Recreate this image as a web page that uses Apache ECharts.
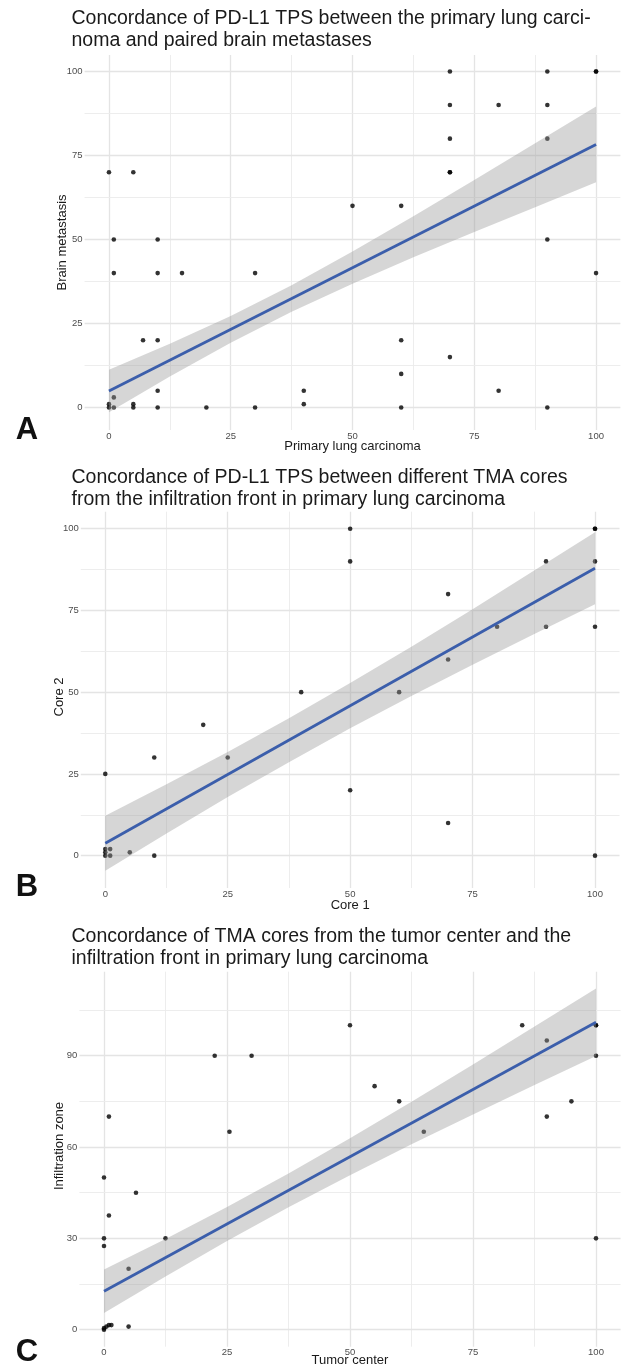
<!DOCTYPE html>
<html>
<head>
<meta charset="utf-8">
<script src="https://cdn.jsdelivr.net/npm/echarts@6/dist/echarts.min.js"></script>
<style>
  html, body { margin: 0; padding: 0; background: #fff; }
  #chart { width: 623px; height: 1368px; }
</style>
</head>
<body>
<div id="chart"></div>
<script>
// ---- data ----
// A: primary lung carcinoma vs brain metastasis
const pointsA = [
  [0, 70], [5, 70],
  [70, 100], [90, 100], [100, 100], [100, 100],
  [70, 90], [80, 90], [90, 90],
  [70, 80], [90, 80],
  [70, 70], [70, 70],
  [50, 60], [60, 60],
  [1, 50], [10, 50], [90, 50],
  [1, 40], [10, 40], [15, 40], [30, 40], [100, 40],
  [7, 20], [10, 20], [60, 20],
  [70, 15], [60, 10],
  [10, 5], [40, 5], [80, 5],
  [1, 3],
  [0, 1], [5, 1], [40, 1],
  [0, 0], [1, 0], [5, 0], [10, 0], [20, 0], [30, 0], [60, 0], [90, 0]
];
// B: core 1 vs core 2
const pointsB = [
  [50, 100], [100, 100], [100, 100],
  [50, 90], [90, 90], [100, 90],
  [70, 80],
  [80, 70], [90, 70], [100, 70],
  [70, 60],
  [40, 50], [60, 50],
  [20, 40],
  [10, 30], [25, 30],
  [0, 25],
  [50, 20],
  [70, 10],
  [0, 2], [1, 2], [0, 1], [5, 1], [0, 0], [1, 0], [10, 0], [100, 0]
];
// C: tumor center vs infiltration zone
const pointsC = [
  [50, 100], [85, 100], [100, 100], [100, 100],
  [90, 95],
  [22.5, 90], [30, 90], [100, 90],
  [55, 80],
  [60, 75], [95, 75],
  [1, 70], [90, 70],
  [25.5, 65], [65, 65],
  [0, 50], [6.5, 45], [1, 37.5],
  [0, 30], [12.5, 30], [100, 30],
  [0, 27.5], [5, 20],
  [0, 0], [0, 0.5], [0.5, 1], [1, 1.5], [1.5, 1.5], [5, 1]
];

// linear fit and its confidence band
const fitX = [0, 100];
const fitA = [4.9, 78.3];
const fitB = [3.8, 87.9];
const fitC = [12.6, 101.0];

const bandX = [0, 12.5, 25, 37.5, 50, 62.5, 75, 87.5, 100];
const lowA = [-1.4, 9.2, 19.3, 28.5, 36.8, 44.7, 52.2, 59.6, 67.0];
const highA = [11.2, 19.0, 27.2, 36.4, 46.4, 56.9, 67.7, 78.6, 89.6];
const lowB = [-4.6, 6.8, 17.9, 28.6, 39.0, 48.8, 58.4, 67.7, 76.9];
const highB = [12.2, 21.8, 31.7, 42.0, 52.8, 63.9, 75.4, 87.1, 98.9];
const lowC = [5.5, 17.5, 29.1, 40.2, 50.7, 60.9, 70.7, 80.4, 89.9];
const highC = [19.8, 29.8, 40.3, 51.3, 62.9, 74.9, 87.1, 99.6, 112.1];

// ticks
const xTicks = [0, 25, 50, 75, 100];
const xMinor = [12.5, 37.5, 62.5, 87.5];
const yTicksAB = [0, 25, 50, 75, 100];
const yMinorAB = [12.5, 37.5, 62.5, 87.5];
const yTicksC = [0, 30, 60, 90];
const yMinorC = [15, 45, 75, 105];

const titles = [
  'Concordance of PD-L1 TPS between the primary lung carci-\nnoma and paired brain metastases',
  'Concordance of PD-L1 TPS between different TMA cores\nfrom the infiltration front in primary lung carcinoma',
  'Concordance of TMA cores from the tumor center and the\ninfiltration front in primary lung carcinoma'
];
const xNames = ['Primary lung carcinoma', 'Core 1', 'Tumor center'];
const yNames = ['Brain metastasis', 'Core 2', 'Infiltration zone'];
const letters = ['A', 'B', 'C'];

// ---- layout ----
const FONT = '"Liberation Sans", Arial, Helvetica, sans-serif';
const panels = [
  { grid: { left: 84.6, top: 55, width: 535.8, height: 375 }, yMin: -6.7, yMax: 104.9,
    titleTop: 7, xNameY: 446, yNameX: 62, yNameY: 242.5, letterY: 430,
    points: pointsA, fit: fitA, low: lowA, high: highA, yTicks: yTicksAB, yMinor: yMinorAB },
  { grid: { left: 80.8, top: 511.7, width: 538.7, height: 376.3 }, yMin: -9.9, yMax: 105.2,
    titleTop: 466, xNameY: 905, yNameX: 59, yNameY: 697, letterY: 887,
    points: pointsB, fit: fitB, low: lowB, high: highB, yTicks: yTicksAB, yMinor: yMinorAB },
  { grid: { left: 79.4, top: 971.7, width: 541.2, height: 375 }, yMin: -5.6, yMax: 117.6,
    titleTop: 925, xNameY: 1360, yNameX: 59, yNameY: 1146, letterY: 1352,
    points: pointsC, fit: fitC, low: lowC, high: highC, yTicks: yTicksC, yMinor: yMinorC }
];

const chart = echarts.init(document.getElementById('chart'), null, { renderer: 'canvas' });

const grid = [], xAxis = [], yAxis = [], series = [], title = [], graphic = [];

const tickLabel = { color: '#4d4d4d', fontSize: 9.5, fontFamily: FONT };

panels.forEach((p, i) => {
  grid.push(Object.assign({ containLabel: false }, p.grid));

  xAxis.push({
    gridIndex: i, type: 'value', min: -5, max: 105,
    axisLine: { show: false }, axisTick: { show: false }, splitLine: { show: false },
    axisLabel: Object.assign({ customValues: xTicks, margin: 1 }, tickLabel)
  });
  yAxis.push({
    gridIndex: i, type: 'value', min: p.yMin, max: p.yMax,
    axisLine: { show: false }, axisTick: { show: false }, splitLine: { show: false },
    axisLabel: Object.assign({ customValues: p.yTicks, margin: 2 }, tickLabel)
  });

  // grid lines (major + minor), kept under everything else
  const major = { color: '#e4e4e4', width: 1.3, type: 'solid' };
  const minor = { color: '#ebebeb', width: 0.9, type: 'solid' };
  const lines = []
    .concat(xTicks.map(v => ({ xAxis: v, lineStyle: major })))
    .concat(xMinor.map(v => ({ xAxis: v, lineStyle: minor })))
    .concat(p.yTicks.map(v => ({ yAxis: v, lineStyle: major })))
    .concat(p.yMinor.map(v => ({ yAxis: v, lineStyle: minor })));
  series.push({
    type: 'line', xAxisIndex: i, yAxisIndex: i, data: [], z: 1, silent: true,
    markLine: { z: 1, silent: true, symbol: 'none', label: { show: false }, animation: false, data: lines }
  });

  // points
  series.push({
    type: 'scatter', xAxisIndex: i, yAxisIndex: i, z: 2, silent: true,
    symbolSize: 4.6, itemStyle: { color: '#000' },
    data: p.points
  });

  // confidence band, drawn over the points like geom_smooth
  const band = bandX.map((x, k) => [x, p.low[k], p.high[k]]);
  series.push({
    type: 'custom', xAxisIndex: i, yAxisIndex: i, z: 3, silent: true,
    encode: { x: 0, y: [1, 2] },
    data: band,
    renderItem: (params, api) => {
      if (params.dataIndex !== 0) return null;
      const pts = [];
      band.forEach(b => pts.push(api.coord([b[0], b[2]])));
      band.slice().reverse().forEach(b => pts.push(api.coord([b[0], b[1]])));
      return { type: 'polygon', shape: { points: pts }, style: { fill: 'rgba(153,153,153,0.4)' } };
    }
  });

  // fitted line
  series.push({
    type: 'line', xAxisIndex: i, yAxisIndex: i, z: 4, silent: true,
    symbol: 'none', lineStyle: { color: '#3b5eab', width: 2.8 },
    data: fitX.map((x, k) => [x, p.fit[k]])
  });

  title.push({
    text: titles[i], left: 71.5, top: p.titleTop, padding: 0,
    textStyle: { fontFamily: FONT, fontSize: 19.5, lineHeight: 22.5, fontWeight: 'normal', color: '#1a1a1a' }
  });

  const gx = p.grid.left + p.grid.width / 2;
  graphic.push(
    { type: 'text', x: gx, y: p.xNameY, silent: true,
      style: { text: xNames[i], font: '13px ' + FONT, fill: '#1a1a1a',
               align: 'center', verticalAlign: 'middle', textAlign: 'center', textVerticalAlign: 'middle' } },
    { type: 'text', x: p.yNameX, y: p.yNameY, rotation: Math.PI / 2, silent: true,
      style: { text: yNames[i], font: '13px ' + FONT, fill: '#1a1a1a',
               align: 'center', verticalAlign: 'middle', textAlign: 'center', textVerticalAlign: 'middle' } },
    { type: 'text', x: 27, y: p.letterY, silent: true,
      style: { text: letters[i], font: 'bold 31px ' + FONT, fill: '#111',
               align: 'center', verticalAlign: 'middle', textAlign: 'center', textVerticalAlign: 'middle' } }
  );
});

chart.setOption({
  animation: false,
  backgroundColor: '#fff',
  title, grid, xAxis, yAxis, series, graphic
});
</script>
</body>
</html>
